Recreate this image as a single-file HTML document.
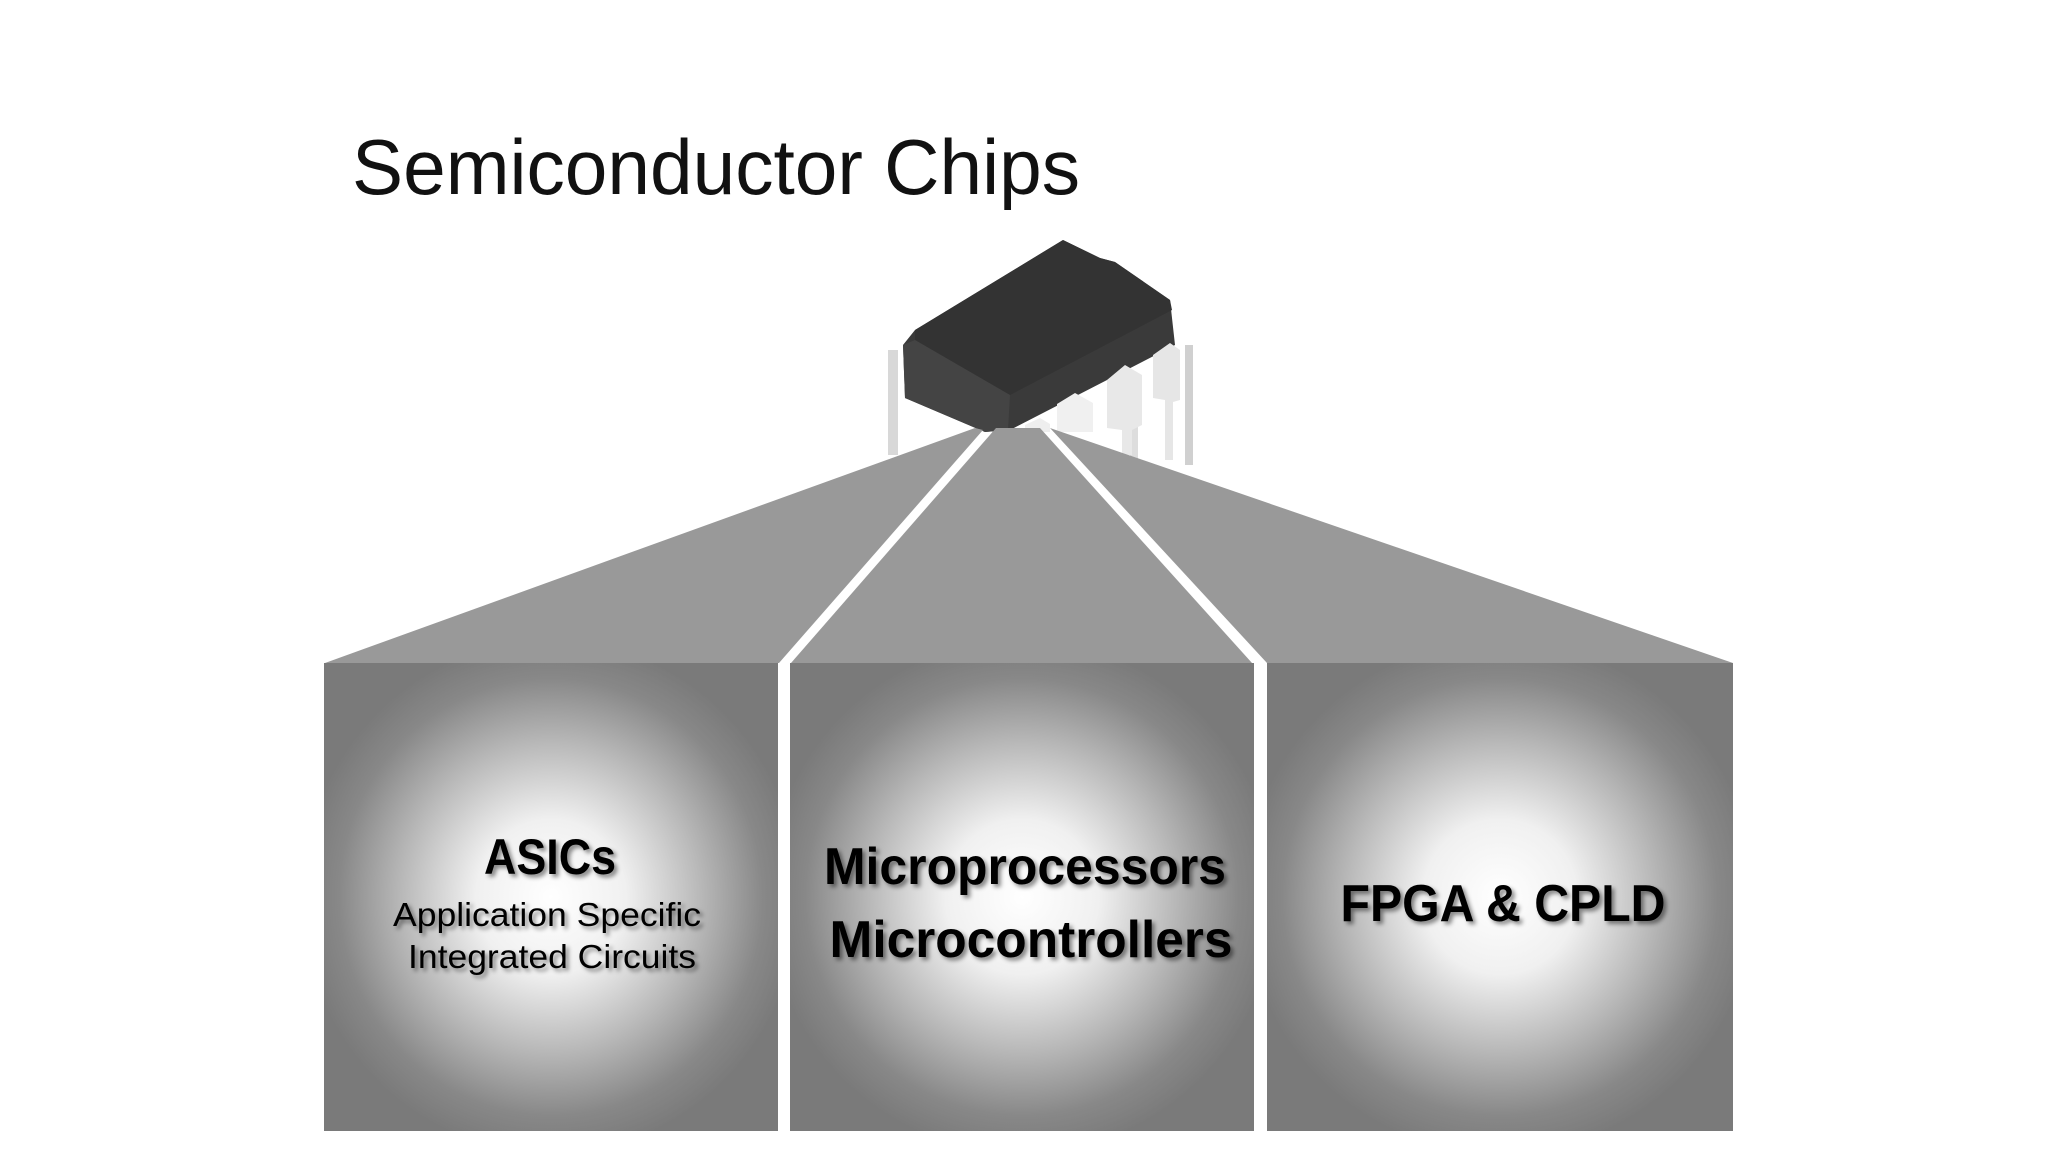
<!DOCTYPE html>
<html><head><meta charset="utf-8"><style>
html,body{margin:0;padding:0;background:#fff;}
svg{display:block;}
text{font-family:"Liberation Sans",sans-serif;}
.b{font-weight:bold;fill:#000;filter:url(#sh);}
</style></head><body>
<svg width="2048" height="1152" viewBox="0 0 2048 1152" xmlns="http://www.w3.org/2000/svg">
<defs>
<radialGradient id="g" cx="50%" cy="50%" r="55%">
<stop offset="0" stop-color="#ffffff"/>
<stop offset="0.3" stop-color="#f0f0f0"/>
<stop offset="0.6" stop-color="#b8b8b8"/>
<stop offset="0.85" stop-color="#888"/>
<stop offset="1" stop-color="#7a7a7a"/>
</radialGradient>
<filter id="sh" x="-10%" y="-30%" width="130%" height="170%">
<feDropShadow dx="3" dy="3" stdDeviation="2" flood-color="#000" flood-opacity="0.45"/>
</filter>
</defs>
<text x="352" y="194" font-size="78" textLength="728" lengthAdjust="spacingAndGlyphs" fill="#111">Semiconductor Chips</text>

<!-- chip back legs -->
<rect x="888" y="350" width="10" height="105" fill="#d8d8d8"/>
<rect x="1185" y="345" width="8" height="120" fill="#d0d0d0"/>
<rect x="1130" y="400" width="8" height="60" fill="#ddd"/>
<!-- chip body -->
<polygon points="1063,240 1100,258 1115,262 1170,300 1175,345 1010,430 985,432 905,398 903,345 915,330" fill="#3a3a3a"/>
<polygon points="1063,240 1100,258 1115,262 1170,300 1172,310 1010,395 915,340 915,330" fill="#333"/>
<polygon points="915,340 1010,395 1008,430 985,432 905,398 903,345" fill="#444"/>
<!-- front pins -->
<polygon points="1057,404 1075,393 1093,403 1093,432 1057,432" fill="#f0f0f0"/>
<polygon points="1107,380 1125,365 1142,375 1142,425 1132,430 1132,455 1122,455 1122,430 1107,428" fill="#e8e8e8"/>
<polygon points="1153,355 1170,343 1180,350 1180,400 1173,402 1173,460 1165,460 1165,400 1153,398" fill="#e6e6e6"/>
<polygon points="1025,425 1040,418 1050,424 1050,432 1025,432" fill="#eee"/>

<!-- trapezoids -->
<polygon points="325,663 779,663 983,430 975,428" fill="#999"/>
<polygon points="791,663 1252,663 1040,428 996,428" fill="#999"/>
<polygon points="1267,663 1733,663 1050,428" fill="#999"/>

<!-- boxes -->
<rect x="324" y="663" width="454" height="468" fill="url(#g)"/>
<rect x="790" y="663" width="464" height="468" fill="url(#g)"/>
<rect x="1267" y="663" width="466" height="468" fill="url(#g)"/>

<text class="b" x="550" y="874" font-size="50" text-anchor="middle" textLength="132" lengthAdjust="spacingAndGlyphs">ASICs</text>
<text class="b" x="547" y="926" font-size="33" text-anchor="middle" textLength="308" lengthAdjust="spacingAndGlyphs" style="font-weight:normal">Application Specific</text>
<text class="b" x="552" y="968" font-size="33" text-anchor="middle" textLength="288" lengthAdjust="spacingAndGlyphs" style="font-weight:normal">Integrated Circuits</text>
<text class="b" x="1025" y="884" font-size="52" text-anchor="middle" textLength="402" lengthAdjust="spacingAndGlyphs">Microprocessors</text>
<text class="b" x="1031" y="957" font-size="52" text-anchor="middle" textLength="403" lengthAdjust="spacingAndGlyphs">Microcontrollers</text>
<text class="b" x="1503" y="921" font-size="52" text-anchor="middle" textLength="325" lengthAdjust="spacingAndGlyphs">FPGA &amp; CPLD</text>
</svg>
</body></html>
